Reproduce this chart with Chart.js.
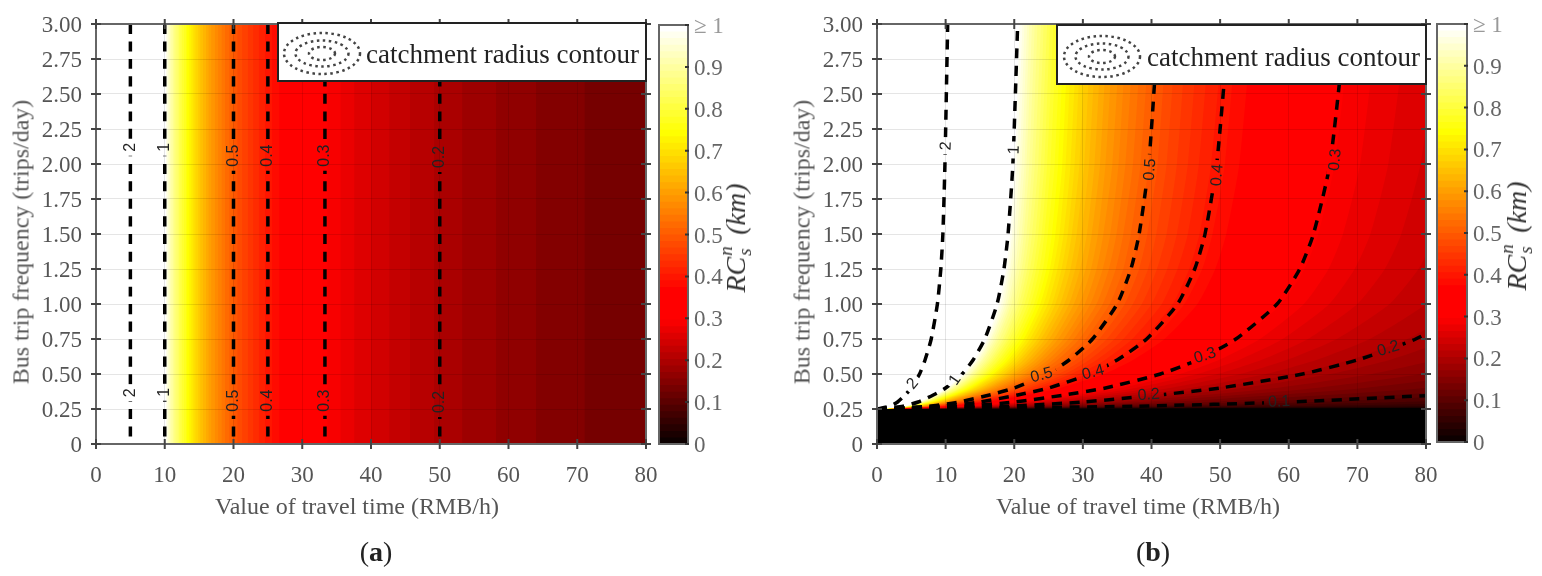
<!DOCTYPE html>
<html>
<head>
<meta charset="utf-8">
<title>Catchment radius contours</title>
<script src="https://cdn.jsdelivr.net/npm/chart.js@4"></script>
<style>
  html, body { margin: 0; background: #fff; }
  body { position: relative; width: 1542px; height: 576px; overflow: hidden; font-family: "Liberation Serif", serif; filter: blur(0.5px); }
  canvas { position: absolute; top: 0; }
  .txt { position: absolute; white-space: nowrap; transform: translate(-50%, -50%); color: #555; font-size: 24px; }
  .rot { transform: translate(-50%, -50%) rotate(-90deg); }
  .cap { color: #222; font-size: 28px; }
  .cbar { color: #333; font-size: 28px; font-style: italic; }
  .stack { display: inline-block; position: relative; width: 15px; height: 20px; }
  .stack span { position: absolute; left: 1px; font-size: 19px; line-height: 19px; }
  .stack .up { top: -9px; }
  .stack .dn { top: 10px; }
</style>
</head>
<body>
<canvas id="panelA" width="660" height="576" style="left:0"></canvas>
<canvas id="barA" width="120" height="576" style="left:650px"></canvas>
<canvas id="panelB" width="660" height="576" style="left:781px"></canvas>
<canvas id="barB" width="105" height="576" style="left:1428px"></canvas>

<div class="txt rot" style="left:21px;top:242px">Bus trip frequency (trips/day)</div>
<div class="txt" style="left:357px;top:506px">Value of travel time (RMB/h)</div>
<div class="txt rot" style="left:802px;top:242px">Bus trip frequency (trips/day)</div>
<div class="txt" style="left:1138px;top:506px">Value of travel time (RMB/h)</div>
<div class="txt rot cbar" style="left:736px;top:238px">RC<span class="stack"><span class="up">n</span><span class="dn">s</span></span> (km)</div>
<div class="txt rot cbar" style="left:1517px;top:236px">RC<span class="stack"><span class="up">n</span><span class="dn">s</span></span> (km)</div>
<div class="txt cap" style="left:376px;top:552px">(<b>a</b>)</div>
<div class="txt cap" style="left:1153px;top:552px">(<b>b</b>)</div>

<script>
const xTicks = [0, 10, 20, 30, 40, 50, 60, 70, 80];
const colorbarLevels = [0,1,2,3,4,5,6,7,8,9,10,11,12,13,14,15,16,17,18,19,20,21,22,23,24,25,26,27,28,29,30,31,
  32,33,34,35,36,37,38,39,40,41,42,43,44,45,46,47,48,49,50,51,52,53,54,55,56,57,58,59,60,61,62,63];

// panel a: colour bands are vertical, band level in 1/64 and its right hand edge in RMB/h
const bandLevelA = [8,9,10,11,12,13,14,15,16,17,18,19,20,21,22,23,24,25,26,27,28,29,30,31,32,33,34,35,36,
  37,38,39,40,41,42,43,44,45,46,47,48,49,50,51,52,53,54,55,56,57,58,59,60,61,62,63,64];
const bandEdgeA = [80,71.1,64,58.2,53.3,49.2,45.7,42.7,40,37.6,35.6,33.7,32,30.5,29.1,27.8,26.7,25.6,24.6,
  23.7,22.9,22.1,21.3,20.6,20,19.4,18.8,18.3,17.8,17.3,16.8,16.4,16,15.6,15.2,14.9,14.5,14.2,13.9,13.6,13.3,
  13.1,12.8,12.5,12.3,12.1,11.9,11.6,11.4,11.2,11,10.8,10.7,10.5,10.3,10.2,10];
const contourXA = [5, 10, 20, 25, 33.3, 50];
const labelTextA = ['2','1','0.5','0.4','0.3','0.2','2','1','0.5','0.4','0.3','0.2'];
const labelXA = [5,10,20,25,33.3,50,5,10,20,25,33.3,50];
const labelYA = [2.12,2.12,2.06,2.06,2.06,2.05,0.365,0.37,0.31,0.31,0.31,0.3];

// panel b: each band is bounded by a curve, x read at these frequencies
const rowsB = [0.25,0.27,0.3,0.35,0.4,0.5,0.6,0.75,1,1.25,1.5,2,3];
const bandLevelB = [1,2,3,4,5,6,7,8,9,10,11,12,13,14,15,16,17,18,19,20,22,24,25,26,27,28,29,30,31,32,33,34,35,36,37,38,39,40,
  41,42,43,44,45,46,47,48,49,50,51,52,53,54,55,56,57,58,59,60,61,62,63,64];
const bandCurveB = [
  [0,243],
  [0,121],
  [0,81,128],
  [0,60.8,96],
  [0,48.6,76.8,105],
  [0,40.5,64,87.5],
  [0,34.7,54.9,75,91.4],
  [0,30.4,48,65.6,80,99.2],
  [0,27,42.7,58.3,71.1,88.2],
  [0,24.3,38.4,52.5,64,79.4,89.6],
  [0,22.1,34.9,47.7,58.2,72.1,81.5],
  [0,20.3,32,43.7,53.3,66.1,74.7,83.7],
  [0,18.7,29.5,40.4,49.2,61,68.9,77.3,86.2],
  [0,17.4,27.4,37.5,45.7,56.7,64,71.8,80,84.6],
  [0,16.2,25.6,35,42.7,52.9,59.7,67,74.7,78.9,81.5],
  [0,15.2,24,32.8,40,49.6,56,62.8,70,74,76.4,79.2,82],
  [0,14.3,22.6,30.9,37.6,46.7,52.7,59.1,65.9,69.6,71.9,74.5,77.2],
  [0,13.5,21.3,29.2,35.6,44.1,49.8,55.8,62.2,65.8,67.9,70.4,72.9],
  [0,12.8,20.2,27.6,33.7,41.8,47.2,52.9,58.9,62.3,64.3,66.7,69],
  [0,12.2,19.2,26.2,32,39.7,44.8,50.2,56,59.2,61.1,63.4,65.6],
  [0,11.1,17.5,23.9,29.1,36.1,40.7,45.7,50.9,53.8,55.6,57.6,59.6],
  [0,10.1,16,21.9,26.7,33.1,37.3,41.9,46.7,49.3,50.9,52.8,54.7],
  [0,9.7,15.4,21,25.6,31.7,35.8,40.2,44.8,47.4,48.9,50.7,52.5],
  [0,9.4,14.8,20.2,24.6,30.5,34.5,38.7,43.1,45.5,47,48.7,50.5],
  [0,9,14.2,19.4,23.7,29.4,33.2,37.2,41.5,43.8,45.3,46.9,48.6],
  [0,8.7,13.7,18.7,22.9,28.3,32,35.9,40,42.3,43.7,45.3,46.9],
  [0,8.4,13.2,18.1,22.1,27.4,30.9,34.6,38.6,40.8,42.2,43.7,45.2],
  [0,8.1,12.8,17.5,21.3,26.5,29.9,33.5,37.3,39.5,40.7,42.2,43.7],
  [0,7.8,12.4,16.9,20.6,25.6,28.9,32.4,36.1,38.2,39.4,40.9,42.3],
  [0,7.6,12,16.4,20,24.8,28,31.4,35,37,38.2,39.6,41],
  [0,7.4,11.6,15.9,19.4,24,27.2,30.4,33.9,35.9,37,38.4,39.8],
  [0,7.2,11.3,15.4,18.8,23.3,26.3,29.5,32.9,34.8,35.9,37.3,38.6],
  [0,7,11,15,18.3,22.7,25.6,28.7,32,33.8,34.9,36.2,37.5],
  [0,6.8,10.7,14.6,17.8,22,24.9,27.9,31.1,32.9,34,35.2,36.4],
  [0,6.6,10.4,14.2,17.3,21.5,24.2,27.2,30.3,32,33,34.3,35.5],
  [0,6.4,10.1,13.8,16.8,20.9,23.6,26.4,29.5,31.2,32.2,33.3,34.5],
  [0,6.2,9.8,13.5,16.4,20.3,23,25.8,28.7,30.4,31.3,32.5,33.6],
  [0,6.1,9.6,13.1,16,19.8,22.4,25.1,28,29.6,30.6,31.7,32.8],
  [0,5.9,9.4,12.8,15.6,19.4,21.9,24.5,27.3,28.9,29.8,30.9,32],
  [0,5.8,9.1,12.5,15.2,18.9,21.3,23.9,26.7,28.2,29.1,30.2,31.2],
  [0,5.7,8.9,12.2,14.9,18.5,20.8,23.4,26,27.5,28.4,29.5,30.5],
  [0,5.5,8.7,11.9,14.5,18,20.4,22.8,25.5,26.9,27.8,28.8,29.8],
  [0,5.4,8.5,11.7,14.2,17.6,19.9,22.3,24.9,26.3,27.2,28.2,29.2],
  [0,5.3,8.3,11.4,13.9,17.2,19.5,21.8,24.3,25.7,26.6,27.5,28.5],
  [0,5.2,8.2,11.2,13.6,16.9,19.1,21.4,23.8,25.2,26,27,27.9],
  [0,5.1,8,10.9,13.3,16.5,18.7,20.9,23.3,24.7,25.5,26.4,27.3],
  [0,5,7.8,10.7,13.1,16.2,18.3,20.5,22.9,24.2,24.9,25.9,26.8],
  [0,4.9,7.7,10.5,12.8,15.9,17.9,20.1,22.4,23.7,24.4,25.3,26.2],
  [0,4.8,7.5,10.3,12.5,15.6,17.6,19.7,22,23.2,24,24.8,25.7],
  [0,4.7,7.4,10.1,12.3,15.3,17.2,19.3,21.5,22.8,23.5,24.4,25.2],
  [0,4.6,7.2,9.9,12.1,15,16.9,19,21.1,22.3,23.1,23.9,24.8],
  [0,4.5,7.1,9.7,11.9,14.7,16.6,18.6,20.7,21.9,22.6,23.5,24.3],
  [0,4.4,7,9.5,11.6,14.4,16.3,18.3,20.4,21.5,22.2,23,23.9],
  [0,4.3,6.9,9.4,11.4,14.2,16,17.9,20,21.1,21.8,22.6,23.4],
  [0,4.3,6.7,9.2,11.2,13.9,15.7,17.6,19.6,20.8,21.4,22.2,23],
  [0,4.2,6.6,9,11,13.7,15.4,17.3,19.3,20.4,21.1,21.8,22.6],
  [0,4.1,6.5,8.9,10.8,13.5,15.2,17,19,20.1,20.7,21.5,22.2],
  [0,4.1,6.4,8.7,10.7,13.2,14.9,16.7,18.7,19.7,20.4,21.1,21.9],
  [0,4,6.3,8.6,10.5,13,14.7,16.5,18.4,19.4,20,20.8,21.5],
  [0,3.9,6.2,8.5,10.3,12.8,14.5,16.2,18.1,19.1,19.7,20.4,21.2],
  [0,3.9,6.1,8.3,10.2,12.6,14.2,16,17.8,18.8,19.4,20.1,20.8],
  [0,3.8,6,8.2,10,12.4,14,15.7,17.5,18.5,19.1,19.8,20.5]
];
const contourB2 = [0,1.9,3,4.1,5,6.2,7,7.9,8.8,9.3,9.6,9.9,10.3];
const contourB1 = [0,3.8,6,8.2,10,12.4,14,15.7,17.5,18.5,19.1,19.8,20.5];
const contourB05 = [0,7.6,12,16.4,20,24.8,28,31.4,35,37,38.2,39.6,41];
const contourB04 = [0,9.5,15,20.5,25,31,35,39.3,43.8,46.3,47.8,49.5,51.3];
const contourB03 = [0,12.7,20,27.3,33.3,41.3,46.7,52.3,58.3,61.6,63.6,66,68.3];
const contourB02 = [0,19,30,41,50,62,70,78.5,87.5];
const contourB01 = [0,38,60,82];
const labelTextB = ['2','1','0.5','0.4','0.3','2','1','0.5','0.4','0.3','0.2','0.2','0.1'];
const labelXB = [10.1,20,39.8,49.6,66.8,5.2,11.4,24,31.5,47.8,74.5,39.6,58.6];
const labelYB = [2.13,2.1,1.96,1.92,2.03,0.43,0.457,0.49,0.51,0.63,0.68,0.35,0.3];
const labelAngleB = [-88,-88,-86,-86,-85,-50,-55,-15,-15,-17,-17,-4,-2];

const serif = '"Liberation Serif", serif';

// like matlab hot(64), but red saturates a bit earlier in this figure
function hotColor(i) {
  const c = v => Math.round(Math.max(0, Math.min(1, v)) * 255);
  return `rgb(${c(i / 19.5)},${c((i - 24) / 24)},${c((i - 48) / 16)})`;
}

function bandDataset(points, color) {
  return { data: points, showLine: true, tension: 0.2, pointRadius: 0, borderWidth: 0, fill: 'end', backgroundColor: color, borderColor: color };
}

function contourDataset(points) {
  return { data: points, contour: true, showLine: true, tension: 0.2, pointRadius: 0, borderWidth: 3.5, borderColor: '#000', borderDash: [10, 7.5], fill: false };
}

function labelCorners(chart, l) {
  const ctx = chart.ctx;
  ctx.font = '16px "Liberation Sans", sans-serif';
  const w = ctx.measureText(l.text).width / 2 + 4, h = 8;
  const px = chart.scales.x.getPixelForValue(l.x), py = chart.scales.y.getPixelForValue(l.y);
  const a = l.angle * Math.PI / 180;
  return { px, py, a, pts: [[-w, -h], [w, -h], [w, h], [-w, h]].map(p => [
    px + p[0] * Math.cos(a) - p[1] * Math.sin(a),
    py + p[0] * Math.sin(a) + p[1] * Math.cos(a)
  ]) };
}

// labels with gaps in the contour lines, inward ticks, frame and the legend box
function panelDecor(labels, box, ringX, ringY, textX, textY) {
  return {
    id: 'panelDecor',
    beforeDatasetDraw(chart, args) {
      if (!chart.data.datasets[args.index].contour) return;
      const ctx = chart.ctx;
      ctx.save();
      ctx.beginPath();
      ctx.rect(0, 0, chart.width, chart.height);
      labels.forEach(l => {
        const pts = labelCorners(chart, l).pts;
        ctx.moveTo(pts[0][0], pts[0][1]);
        pts.slice(1).forEach(p => ctx.lineTo(p[0], p[1]));
        ctx.closePath();
      });
      ctx.clip('evenodd');
    },
    afterDatasetDraw(chart, args) {
      if (chart.data.datasets[args.index].contour) chart.ctx.restore();
    },
    afterDraw(chart) {
      const ctx = chart.ctx, a = chart.chartArea;
      ctx.save();
      ctx.strokeStyle = '#666';
      ctx.lineWidth = 2;
      ctx.strokeRect(a.left, a.top, a.right - a.left, a.bottom - a.top);
      ctx.strokeStyle = '#444';
      ctx.beginPath();
      chart.scales.x.ticks.forEach(t => {
        const p = chart.scales.x.getPixelForValue(t.value);
        ctx.moveTo(p, a.top - 5); ctx.lineTo(p, a.top + 5);
        ctx.moveTo(p, a.bottom - 5); ctx.lineTo(p, a.bottom + 5);
      });
      chart.scales.y.ticks.forEach(t => {
        const p = chart.scales.y.getPixelForValue(t.value);
        ctx.moveTo(a.left - 5, p); ctx.lineTo(a.left + 5, p);
        ctx.moveTo(a.right - 5, p); ctx.lineTo(a.right + 5, p);
      });
      ctx.stroke();

      ctx.fillStyle = '#222';
      ctx.textAlign = 'center';
      ctx.textBaseline = 'middle';
      labels.forEach(l => {
        const c = labelCorners(chart, l);
        ctx.save();
        ctx.translate(c.px, c.py);
        ctx.rotate(c.a);
        ctx.fillText(l.text, 0, 0);
        ctx.restore();
      });

      ctx.fillStyle = '#fff';
      ctx.strokeStyle = '#222';
      ctx.lineWidth = 2;
      ctx.fillRect(box[0], box[1], box[2] - box[0], box[3] - box[1]);
      ctx.strokeRect(box[0], box[1], box[2] - box[0], box[3] - box[1]);
      ctx.strokeStyle = '#444';
      ctx.lineWidth = 2.5;
      ctx.setLineDash([2.5, 3.5]);
      [[38, 20.5], [26.5, 13], [13, 6.5]].forEach(r => {
        ctx.beginPath();
        ctx.ellipse(ringX, ringY, r[0], r[1], 0, 0, Math.PI * 2);
        ctx.stroke();
      });
      ctx.setLineDash([]);
      ctx.fillStyle = '#222';
      ctx.font = '27px ' + serif;
      ctx.textAlign = 'left';
      ctx.fillText('catchment radius contour', textX, textY);
      ctx.restore();
    }
  };
}

function makePanel(id, datasets, plotWidth, decor) {
  return new Chart(document.getElementById(id), {
    type: 'scatter',
    // chart.js paints the first dataset on top, so the list goes in reverse
    data: { datasets: datasets.slice().reverse() },
    plugins: [decor],
    options: {
      responsive: false,
      animation: false,
      events: [],
      layout: { padding: { top: 24, right: 660 - 96 - plotWidth, bottom: 56, left: 0 } },
      plugins: { legend: { display: false }, tooltip: { enabled: false } },
      scales: {
        x: {
          type: 'linear', min: 0, max: 80,
          afterFit: s => { s.height = 76; s.paddingLeft = 0; s.paddingRight = 0; },
          afterBuildTicks: s => { s.ticks = xTicks.map(v => ({ value: v })); },
          grid: { z: 1, color: 'rgba(0,0,0,0.1)', drawTicks: false },
          border: { display: false },
          ticks: { color: '#555', padding: 18, maxRotation: 0, font: { family: serif, size: 23 } }
        },
        y: {
          type: 'linear', min: 0, max: 3,
          afterFit: s => { s.width = 96; s.paddingTop = 0; s.paddingBottom = 0; },
          grid: { z: 1, color: 'rgba(0,0,0,0.1)', drawTicks: false },
          border: { display: false },
          ticks: {
            // empty first line with a small line height moves the text down 2px
            stepSize: 0.25, color: '#555', padding: 14, font: { family: serif, size: 23, lineHeight: '4px' },
            callback: v => ['', v === 0 ? '0' : v.toFixed(2)]
          }
        }
      }
    }
  });
}

function makeColorbar(id, plotLeft, plotWidth, top, bottom) {
  const datasets = colorbarLevels.map(k => bandDataset([{ x: 0, y: k / 64 }, { x: 1, y: k / 64 }], hotColor(k + 1)));
  new Chart(document.getElementById(id), {
    type: 'scatter',
    data: { datasets: datasets.reverse() },
    plugins: [{
      id: 'barFrame',
      afterDraw(chart) {
        const ctx = chart.ctx, a = chart.chartArea;
        ctx.save();
        ctx.strokeStyle = '#666';
        ctx.lineWidth = 2;
        ctx.strokeRect(a.left, a.top, a.right - a.left, a.bottom - a.top);
        ctx.strokeStyle = '#333';
        ctx.beginPath();
        chart.scales.y.ticks.forEach(t => {
          const p = chart.scales.y.getPixelForValue(t.value);
          ctx.moveTo(a.right - 3, p); ctx.lineTo(a.right + 1, p);
        });
        ctx.stroke();
        ctx.restore();
      }
    }],
    options: {
      responsive: false,
      animation: false,
      events: [],
      layout: { padding: { top, bottom: 576 - bottom, left: plotLeft, right: 0 } },
      plugins: { legend: { display: false }, tooltip: { enabled: false } },
      scales: {
        x: { type: 'linear', min: 0, max: 1, display: false },
        y: {
          type: 'linear', min: 0, max: 1, position: 'right',
          afterFit: s => {
            s.width = document.getElementById(id).width - plotLeft - plotWidth;
            s.paddingTop = 0; s.paddingBottom = 0;
          },
          grid: { display: false, drawTicks: false },
          border: { display: false },
          ticks: {
            stepSize: 0.1, padding: 6, font: { family: serif, size: 23, lineHeight: '4px' },
            color: c => (c.tick && c.tick.value === 1 ? '#999' : '#666'),
            callback: v => ['', v === 0 ? '0' : v === 1 ? '\u2265 1' : v.toFixed(1)]
          }
        }
      }
    }
  });
}

// panel a
const datasetsA = bandLevelA.map((k, i) => {
  const d = bandDataset([{ x: 0, y: 0 }, { x: bandEdgeA[i], y: 0 }, { x: bandEdgeA[i], y: 3 }], hotColor(k + 1));
  d.tension = 0;
  return d;
});
contourXA.forEach(x => datasetsA.push(contourDataset([{ x, y: 3 }, { x, y: 0 }])));
const labelsA = labelTextA.map((text, i) => ({ text, x: labelXA[i], y: labelYA[i], angle: -90 }));
makePanel('panelA', datasetsA, 550, panelDecor(labelsA, [278, 23, 646, 81], 322, 53.5, 366, 56));

// panel b
const datasetsB = [bandDataset([{ x: 0, y: 0 }, { x: 80, y: 0 }], '#000')];
bandLevelB.forEach((k, i) => {
  datasetsB.push(bandDataset(bandCurveB[i].map((x, r) => ({ x, y: rowsB[r] })), hotColor(k + 1)));
});
[contourB2, contourB1, contourB05, contourB04, contourB03, contourB02, contourB01].forEach(c => {
  datasetsB.push(contourDataset(c.map((x, r) => ({ x, y: rowsB[r] }))));
});
const labelsB = labelTextB.map((text, i) => ({ text, x: labelXB[i], y: labelYB[i], angle: labelAngleB[i] }));
makePanel('panelB', datasetsB, 549, panelDecor(labelsB, [276, 25, 645, 84], 321, 56.5, 366, 59));

makeColorbar('barA', 9, 29, 25, 444);
makeColorbar('barB', 9, 30, 24, 442);
</script>
</body>
</html>
